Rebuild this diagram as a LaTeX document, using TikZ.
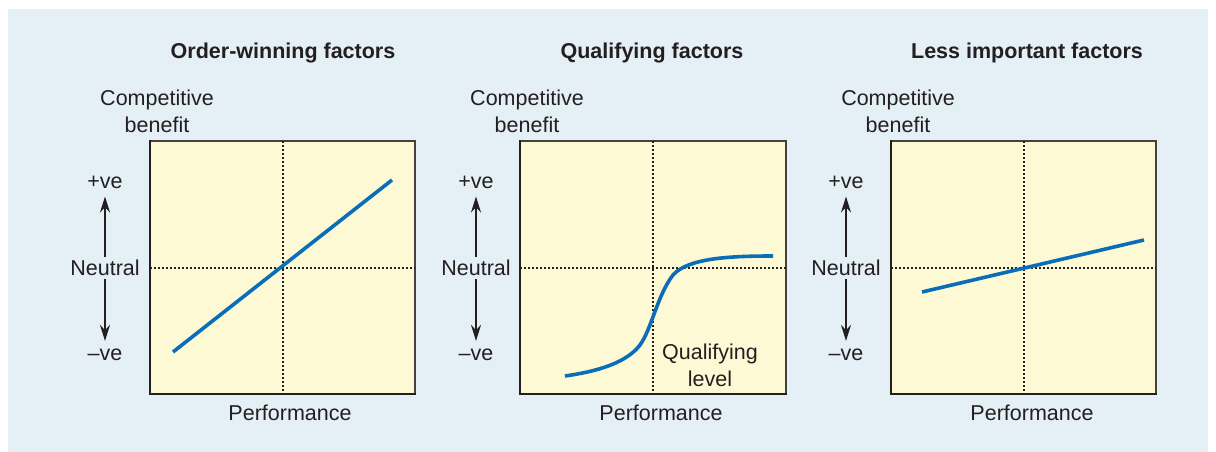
\documentclass[tikz,border=0pt]{standalone}
\usepackage{fontspec}
\setmainfont{Liberation Sans}
\usepackage{xcolor}
\usetikzlibrary{arrows.meta}
\definecolor{bgblue}{HTML}{E4EFF6}
\definecolor{boxyellow}{HTML}{FEF9D5}
\definecolor{curveblue}{HTML}{0A6DB7}
\definecolor{inkgrey}{HTML}{231F20}
\tikzset{
    mytitle/.style={font=\fontsize{21.5}{26}\selectfont\bfseries, text=inkgrey, inner sep=0pt},
    mylabel/.style={font=\fontsize{21.5}{27}\selectfont, text=inkgrey, align=center, inner sep=0pt},
    mybox/.style={fill=boxyellow, draw=inkgrey!85, line width=1.2pt},
    myaxis/.style={draw=inkgrey, line width=2.4pt, line cap=rect},
    myguide/.style={inkgrey, line width=1.2pt, dash pattern=on 2pt off 2pt},
    mycurve/.style={curveblue, line width=3.6pt},
    myarrow/.style={-{Stealth[length=16pt,width=10pt]}, inkgrey, line width=1.2pt, shorten >=8pt, shorten <=3pt}
}
\begin{document}
\begin{tikzpicture}[x=1pt,y=-1pt]
    \useasboundingbox (0,0) rectangle (1216,452);
    \fill[bgblue] (8,9) rectangle (1208,452);
    % order-winning factors
    \draw (283,53) node[mytitle] (title1) {Order-winning factors};
    \draw (157,111) node[mylabel] (cb1) {Competitive\\benefit};
    \draw[mybox] (150,141) rectangle (415,394);
    \draw[myaxis] (150,141) -- (150,394) -- (415,394);
    \draw[myguide] (283,141) -- (283,394);
    \draw[myguide] (150,268) -- (415,268);
    \draw (105,182) node[mylabel] (pos1) {+ve};
    \draw (105,268) node[mylabel] (neu1) {Neutral};
    \draw (105,355) node[mylabel] (neg1) {--ve};
    \draw[myarrow] (neu1) -- (pos1);
    \draw[myarrow] (neu1) -- (neg1);
    \draw (290,413) node[mylabel] (perf1) {Performance};
    \draw[mycurve] (173,352) -- (392,180);
    % qualifying factors
    \draw (652,53) node[mytitle] (title2) {Qualifying factors};
    \draw (527,111) node[mylabel] (cb2) {Competitive\\benefit};
    \draw[mybox] (520,141) rectangle (786,394);
    \draw[myaxis] (520,141) -- (520,394) -- (786,394);
    \draw[myguide] (653,141) -- (653,394);
    \draw[myguide] (520,268) -- (786,268);
    \draw (476,182) node[mylabel] (pos2) {+ve};
    \draw (476,268) node[mylabel] (neu2) {Neutral};
    \draw (476,355) node[mylabel] (neg2) {--ve};
    \draw[myarrow] (neu2) -- (pos2);
    \draw[myarrow] (neu2) -- (neg2);
    \draw (661,413) node[mylabel] (perf2) {Performance};
    \draw[mycurve] (565,376) .. controls (600,371) and (627,362) .. (640,345)
        .. controls (652,328) and (657,296) .. (673,275)
        .. controls (688,258) and (730,256) .. (773,256);
    \draw (710,365) node[mylabel,fill=boxyellow,inner sep=1pt] (qual) {Qualifying\\level};
    % less important factors
    \draw (1027,53) node[mytitle] (title3) {Less important factors};
    \draw (898,111) node[mylabel] (cb3) {Competitive\\benefit};
    \draw[mybox] (891,141) rectangle (1156,394);
    \draw[myaxis] (891,141) -- (891,394) -- (1156,394);
    \draw[myguide] (1024,141) -- (1024,394);
    \draw[myguide] (891,268) -- (1156,268);
    \draw (846,182) node[mylabel] (pos3) {+ve};
    \draw (846,268) node[mylabel] (neu3) {Neutral};
    \draw (846,355) node[mylabel] (neg3) {--ve};
    \draw[myarrow] (neu3) -- (pos3);
    \draw[myarrow] (neu3) -- (neg3);
    \draw (1032,413) node[mylabel] (perf3) {Performance};
    \draw[mycurve] (922,292) -- (1144,240);
\end{tikzpicture}
\end{document}
